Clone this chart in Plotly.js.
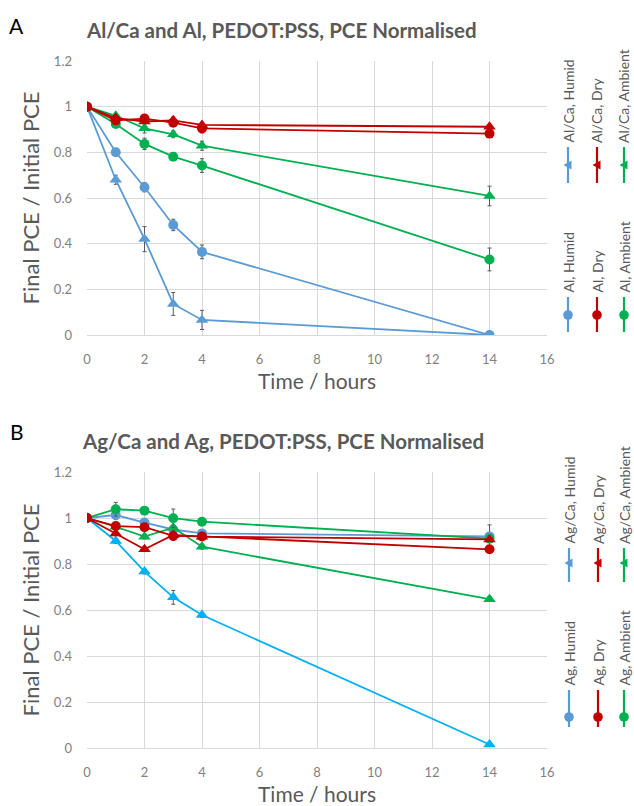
<!DOCTYPE html>
<html>
<head>
<meta charset="utf-8">
<script src="https://cdn.plot.ly/plotly-3.0.1.min.js"></script>
<style>html,body{margin:0;padding:0;background:#fff;}#chart{width:634px;height:806px;}</style>
</head>
<body>
<div id="chart"></div>
<script>
// ---------- DATA ----------
const times = [0, 1, 2, 3, 4, 14];
const xTicks = [0, 2, 4, 6, 8, 10, 12, 14, 16];
const yTicks = [0, 0.2, 0.4, 0.6, 0.8, 1, 1.2];
const yTickText = ['0', '0.2', '0.4', '0.6', '0.8', '1', '1.2'];

// Panel A: Al/Ca and Al
const alcaHumid   = [1.0, 0.68, 0.42, 0.136, 0.066, 0.0];
const alcaHumidErr= [0, 0.02, 0.055, 0.05, 0.042, 0.005];
const alHumid     = [1.0, 0.80, 0.647, 0.482, 0.364, 0.0];
const alHumidErr  = [0, 0.012, 0.02, 0.025, 0.03, 0.01];
const alcaDry     = [1.0, 0.95, 0.935, 0.94, 0.92, 0.912];
const alcaDryErr  = [0, 0.01, 0.01, 0.015, 0.01, 0.01];
const alDry       = [1.0, 0.94, 0.948, 0.93, 0.905, 0.882];
const alDryErr    = [0, 0.01, 0.01, 0.01, 0.02, 0.01];
const alcaAmbient = [1.0, 0.96, 0.905, 0.879, 0.829, 0.609];
const alcaAmbErr  = [0, 0.01, 0.02, 0.015, 0.02, 0.043];
const alAmbient   = [1.0, 0.924, 0.837, 0.781, 0.742, 0.331];
const alAmbErr    = [0, 0.01, 0.025, 0.015, 0.03, 0.05];

// Panel B: Ag/Ca and Ag
const agcaHumid   = [1.0, 0.90, 0.767, 0.655, 0.578, 0.015];
const agcaHumidErr= [0, 0.01, 0.01, 0.03, 0.01, 0.005];
const agHumid     = [1.0, 1.013, 0.98, 0.95, 0.933, 0.92];
const agHumidErr  = [0.01, 0.02, 0.01, 0.01, 0.01, 0.05];
const agcaDry     = [1.0, 0.933, 0.864, 0.926, 0.919, 0.907];
const agcaDryErr  = [0, 0.01, 0.01, 0.015, 0.01, 0.01];
const agDry       = [1.0, 0.965, 0.96, 0.922, 0.92, 0.864];
const agDryErr    = [0, 0.01, 0.01, 0.02, 0.01, 0.01];
const agcaAmbient = [1.0, 0.962, 0.919, 0.958, 0.875, 0.647];
const agcaAmbErr  = [0, 0.01, 0.01, 0.01, 0.01, 0.01];
const agAmbient   = [1.0, 1.038, 1.032, 0.999, 0.984, 0.91];
const agAmbErr    = [0.01, 0.03, 0.01, 0.04, 0.01, 0.01];

// Legend labels
const legendA = ['Al/Ca, Humid', 'Al/Ca, Dry', 'Al/Ca, Ambient', 'Al, Humid', 'Al, Dry', 'Al, Ambient'];
const legendB = ['Ag/Ca, Humid', 'Ag/Ca, Dry', 'Ag/Ca, Ambient', 'Ag, Humid', 'Ag, Dry', 'Ag, Ambient'];

// ---------- STYLE ----------
const W = 634, H = 806;
const FONT = 'Lato, "Open Sans", sans-serif';
const GREY = '#595959';
const BLUE = '#5B9BD5', RED = '#C00000', GREEN = '#00B050', CYAN = '#00B0F0';

function series(y, err, color, sym, xa, ya) {
  return {
    x: times, y: y, xaxis: xa, yaxis: ya, type: 'scatter', mode: 'lines+markers',
    line: {color: color, width: 1.8},
    marker: {color: color, symbol: sym, size: sym === 'circle' ? 10 : 11},
    error_y: {type: 'data', array: err, visible: true, color: GREY, thickness: 1, width: 2},
    showlegend: false, hoverinfo: 'x+y'
  };
}

const data = [
  series(alcaHumid, alcaHumidErr, BLUE, 'triangle-up', 'x', 'y'),
  series(alHumid, alHumidErr, BLUE, 'circle', 'x', 'y'),
  series(alcaAmbient, alcaAmbErr, GREEN, 'triangle-up', 'x', 'y'),
  series(alAmbient, alAmbErr, GREEN, 'circle', 'x', 'y'),
  series(alcaDry, alcaDryErr, RED, 'triangle-up', 'x', 'y'),
  series(alDry, alDryErr, RED, 'circle', 'x', 'y'),

  series(agcaHumid, agcaHumidErr, CYAN, 'triangle-up', 'x2', 'y2'),
  series(agHumid, agHumidErr, BLUE, 'circle', 'x2', 'y2'),
  series(agcaAmbient, agcaAmbErr, GREEN, 'triangle-up', 'x2', 'y2'),
  series(agAmbient, agAmbErr, GREEN, 'circle', 'x2', 'y2'),
  series(agcaDry, agcaDryErr, RED, 'triangle-up', 'x2', 'y2'),
  series(agDry, agDryErr, RED, 'circle', 'x2', 'y2')
];

const xDom = [87 / W, 547 / W];
function xAxis(anchor) {
  return {
    domain: xDom, anchor: anchor, range: [0, 16], tickvals: xTicks,
    showgrid: true, gridcolor: '#d9d9d9', gridwidth: 1, zeroline: false,
    showline: true, linecolor: '#d9d9d9', linewidth: 1, ticks: '',
    ticklabelstandoff: 12,
    tickfont: {family: FONT, size: 13, color: '#7f7f7f'},
    title: {text: 'Time / hours', font: {family: FONT, size: 21, color: GREY}, standoff: 8},
    automargin: false, fixedrange: true
  };
}
function yAxis(anchor, dom) {
  return {
    domain: dom, anchor: anchor, range: [0, 1.2], tickvals: yTicks, ticktext: yTickText,
    showgrid: true, gridcolor: '#d9d9d9', gridwidth: 1, zeroline: false,
    showline: false, ticks: '', ticklabelstandoff: 14,
    tickfont: {family: FONT, size: 13, color: '#7f7f7f'},
    title: {text: 'Final PCE / Initial PCE', font: {family: FONT, size: 22, color: GREY}, standoff: 8},
    automargin: false, fixedrange: true
  };
}

const shapes = [];
const annotations = [];

function legendItem(px, lineTop, lineBot, markY, color, sym, label) {
  shapes.push({type: 'line', xref: 'paper', yref: 'paper',
    x0: px / W, x1: px / W, y0: 1 - lineTop / H, y1: 1 - lineBot / H,
    line: {color: color, width: 2.2}});
  if (sym === 'circle') {
    const r = 4.8;
    shapes.push({type: 'circle', xref: 'paper', yref: 'paper',
      x0: (px - r) / W, x1: (px + r) / W, y0: 1 - (markY + r) / H, y1: 1 - (markY - r) / H,
      fillcolor: color, line: {width: 0}});
  } else {
    const p = (a, b) => (a / W).toFixed(5) + ',' + (1 - b / H).toFixed(5);
    shapes.push({type: 'path', xref: 'paper', yref: 'paper',
      path: 'M' + p(px - 4.5, markY) + ' L' + p(px + 3.5, markY - 4.5) + ' L' + p(px + 3.5, markY + 4.5) + ' Z',
      fillcolor: color, line: {width: 0}});
  }
  annotations.push({xref: 'paper', yref: 'paper', x: px / W, y: 1 - (lineTop - 2) / H,
    xanchor: 'center', yanchor: 'bottom', textangle: -90, showarrow: false,
    text: label, font: {family: FONT, size: 14, color: GREY}});
}

// Panel A legend
const colsA = [568, 597, 624];
const colorsA = [BLUE, RED, GREEN];
for (let i = 0; i < 3; i++) legendItem(colsA[i], 147, 183, 165, colorsA[i], 'triangle', legendA[i]);
for (let i = 0; i < 3; i++) legendItem(colsA[i], 297, 332, 315, colorsA[i], 'circle', legendA[i + 3]);
// Panel B legend
const colsB = [569, 598, 624];
for (let i = 0; i < 3; i++) legendItem(colsB[i], 548, 582, 563, colorsA[i], 'triangle', legendB[i]);
for (let i = 0; i < 3; i++) legendItem(colsB[i], 690, 727, 717, colorsA[i], 'circle', legendB[i + 3]);

// Panel letters and titles
annotations.push({xref: 'paper', yref: 'paper', x: 16 / W, y: 1 - 25 / H, xanchor: 'center', yanchor: 'middle',
  showarrow: false, text: 'A', font: {family: FONT, size: 21, color: '#000'}});
annotations.push({xref: 'paper', yref: 'paper', x: 17 / W, y: 1 - 431 / H, xanchor: 'center', yanchor: 'middle',
  showarrow: false, text: 'B', font: {family: FONT, size: 21, color: '#000'}});
annotations.push({xref: 'paper', yref: 'paper', x: 84 / W, y: 1 - 30 / H, xanchor: 'left', yanchor: 'middle',
  showarrow: false, text: '<b>Al/Ca and Al, PEDOT:PSS, PCE Normalised</b>', font: {family: FONT, size: 20.5, color: GREY}});
annotations.push({xref: 'paper', yref: 'paper', x: 80 / W, y: 1 - 441 / H, xanchor: 'left', yanchor: 'middle',
  showarrow: false, text: '<b>Ag/Ca and Ag, PEDOT:PSS, PCE Normalised</b>', font: {family: FONT, size: 20.5, color: GREY}});

const layout = {
  width: W, height: H,
  margin: {l: 0, r: 0, t: 0, b: 0},
  paper_bgcolor: '#fff', plot_bgcolor: '#fff',
  font: {family: FONT, color: GREY},
  xaxis: xAxis('y'),
  yaxis: yAxis('x', [1 - 335 / H, 1 - 61 / H]),
  xaxis2: xAxis('y2'),
  yaxis2: yAxis('x2', [1 - 748 / H, 1 - 472 / H]),
  shapes: shapes,
  annotations: annotations,
  showlegend: false
};

Plotly.newPlot('chart', data, layout, {displayModeBar: false, staticPlot: true});
</script>
</body>
</html>
